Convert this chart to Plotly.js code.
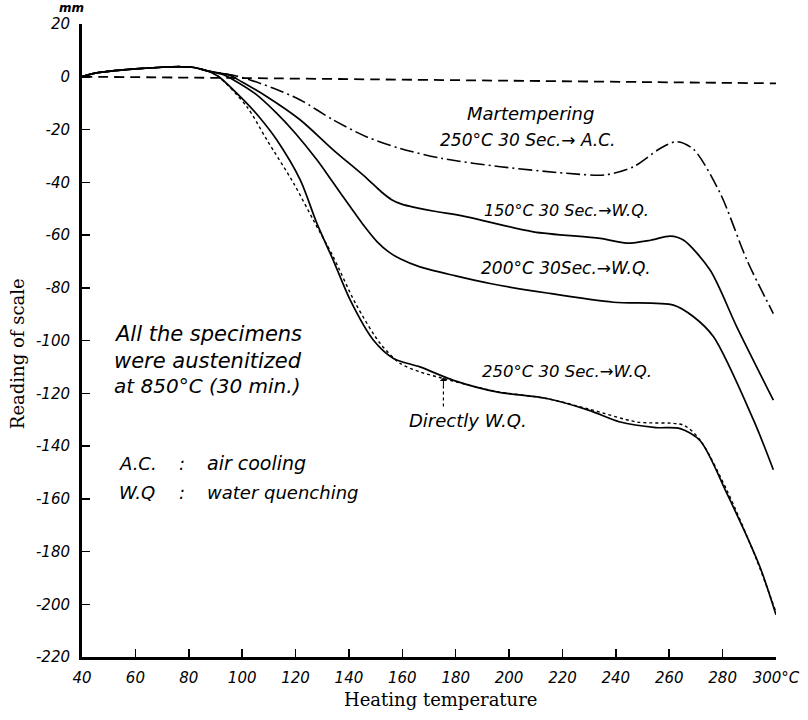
<!DOCTYPE html>
<html>
<head>
<meta charset="utf-8">
<script src="https://cdn.plot.ly/plotly-3.0.1.min.js"></script>
<style>html,body{margin:0;padding:0;background:#fff;}#chart{width:808px;height:720px;}</style>
</head>
<body>
<div id="chart"></div>
<script>
// ---- data ----
// common initial heating part (all specimens)
const commonT = [40, 45, 52, 60, 70, 77, 82, 87];
const commonR = [0, 1.4, 2.3, 3.0, 3.6, 3.8, 3.5, 2.2];

// reference dashed line (near zero)
const refT = [40, 100, 150, 200, 250, 300];
const refR = [0, -0.5, -1.0, -1.5, -2.0, -2.5];

// Martempering 250°C 30 Sec -> A.C.
const martT = [97, 103, 112, 121.8, 134.2, 146.7, 159.2, 175, 196.7, 221.6, 236, 246.6, 256.6, 262.8, 269.1, 279.1, 289.1, 299];
const martR = [0.5, -1.2, -4.5, -8.8, -16.4, -22.8, -27.2, -31, -34.1, -36.6, -37.2, -34.1, -27.2, -24.6, -27.5, -44.2, -69.5, -89.8];

// 150°C 30 Sec -> W.Q.
const wq150T = [95, 100, 109.3, 121.8, 134.2, 146.7, 152, 156, 160, 165, 172, 184.2, 209.1, 234.1, 244.1, 253, 260.4, 265.3, 275.3, 285.3, 299];
const wq150R = [0.7, -2, -7.6, -16.4, -27.8, -38.5, -43.5, -46.6, -48.4, -49.6, -51, -53.1, -58.8, -61.3, -63.1, -62, -60.4, -61.9, -73.3, -94.8, -122.6];

// 200°C 30 Sec -> W.Q.
const wq200T = [93, 96.8, 105, 113, 120, 128, 134, 140.5, 146, 150.5, 155, 159.2, 166.6, 180, 192.9, 214.2, 239.1, 261.6, 269.1, 276.6, 291.6, 299];
const wq200R = [0.8, -1.2, -6.5, -13.9, -21.5, -31.5, -40, -49.3, -57, -62.5, -66.5, -69, -72.1, -75.5, -78.4, -82.0, -85.5, -86.6, -91.0, -98.6, -130.2, -149];

// 250°C 30 Sec -> W.Q.
const wq250T = [91, 100.5, 107, 113, 121.8, 128, 134.1, 140.5, 149.2, 156.7, 166.6, 179.2, 195.4, 214.2, 230, 241.6, 255, 264.1, 271.6, 281.6, 294, 300];
const wq250R = [0.2, -8.8, -16, -24.0, -39.2, -55.6, -69.5, -84.7, -99.9, -106.8, -110.0, -115.1, -119.5, -122.0, -126.5, -130.9, -133.0, -133.4, -138, -158.0, -185.9, -204];

// Directly W.Q.
const directT = [91, 101.8, 109.3, 119.3, 126.7, 134, 142.5, 151.7, 159.2, 166.6, 175.4, 195, 214, 230, 247.9, 265.3, 271.6, 281.6, 292.8, 300];
const directR = [0.2, -11.4, -24.0, -40.4, -54.4, -68, -86, -101.1, -108.7, -111.9, -114.4, -119.3, -122, -126, -130.9, -132.1, -137.8, -156.8, -183.3, -203];

// axis ticks
const xTicks = [40, 60, 80, 100, 120, 140, 160, 180, 200, 220, 240, 260, 280, 300];
const xTickText = ["40", "60", "80", "100", "120", "140", "160", "180", "200", "220", "240", "260", "280", "300°C"];
const yTicks = [20, 0, -20, -40, -60, -80, -100, -120, -140, -160, -180, -200, -220];
const yTickText = ["20", "0", "-20", "-40", "-60", "-80", "-100", "-120", "-140", "-160", "-180", "-200", "-220"];

// ---- build traces ----
const withCommon = (t, r) => ({x: commonT.concat(t), y: commonR.concat(r)});
const hand = {family: "DejaVu Sans", style: "italic", color: "#000"};

function curve(d, dash, width) {
  return {x: d.x, y: d.y, type: "scatter", mode: "lines",
          line: {color: "#000", width: width, dash: dash, shape: "spline", smoothing: 0.8},
          hoverinfo: "skip", showlegend: false};
}

const traces = [
  curve({x: refT, y: refR}, "10px,6px", 1.8),
  curve(withCommon(martT, martR), "14px,4px,2px,4px", 1.6),
  curve(withCommon(wq150T, wq150R), "solid", 1.7),
  curve(withCommon(wq200T, wq200R), "solid", 1.7),
  curve(withCommon(directT, directR), "dot", 1.4),
  curve(withCommon(wq250T, wq250R), "solid", 1.7)
];

function ann(text, x, y, size, extra) {
  return Object.assign({text: text, x: x, y: y, xref: "x", yref: "y", showarrow: false,
    font: Object.assign({}, hand, {size: size})}, extra || {});
}
function pann(text, x, y, font, extra) {
  return Object.assign({text: text, x: x, y: y, xref: "paper", yref: "paper", showarrow: false,
    xanchor: "center", yanchor: "middle", font: font}, extra || {});
}

const annotations = [
  pann("mm", -0.0150, 1.0255, {family: "DejaVu Sans", style: "italic", weight: 700, size: 12, color: "#000"}),
  ann("Martempering", 207.9, -13.8, 18),
  ann("250°C 30 Sec.→ A.C.", 207.2, -24.0, 17),
  ann("150°C 30 Sec.→W.Q.", 221.4, -50.6, 16),
  ann("200°C 30Sec.→W.Q.", 221.4, -72.6, 17),
  ann("250°C 30 Sec.→W.Q.", 221.8, -111.6, 16.5),
  ann("Directly W.Q.", 184.7, -130.4, 18),
  ann("All the specimens", 51.4, -97.6, 21, {xanchor: "left"}),
  ann("were austenitized", 51.4, -107.8, 21, {xanchor: "left"}),
  ann("at 850°C (30 min.)", 51.4, -117.3, 20, {xanchor: "left"}),
  ann("A.C.", 53.2, -146.5, 18, {xanchor: "left"}),
  ann(":", 77.6, -146.5, 18),
  ann("air cooling", 86.2, -146.5, 19, {xanchor: "left"}),
  ann("W.Q", 53.2, -157.5, 18, {xanchor: "left"}),
  ann(":", 77.6, -157.5, 18),
  ann("water quenching", 86.2, -157.5, 18, {xanchor: "left"}),
  // arrow head for "Directly W.Q."
  {text: "", x: 175.4, y: -114.0, ax: 175.4, ay: -118.5, xref: "x", yref: "y", axref: "x", ayref: "y",
   showarrow: true, arrowhead: 1, arrowsize: 1.2, arrowwidth: 1, arrowcolor: "#000"},
  // axis titles
  pann("Reading of scale", -0.0920, 0.4787, {family: "DejaVu Serif", size: 18, color: "#000"}, {textangle: -90}),
  pann("Heating temperature", 0.5159, -0.0679, {family: "DejaVu Serif", size: 18, color: "#000"})
];

const shapes = [
  {type: "line", xref: "x", yref: "y", x0: 175.4, x1: 175.4, y0: -125, y1: -117.5,
   line: {color: "#000", width: 1.2, dash: "dot"}}
];

const layout = {
  width: 808, height: 720,
  margin: {l: 82, r: 32, t: 24, b: 63},
  paper_bgcolor: "#fff", plot_bgcolor: "#fff",
  showlegend: false,
  xaxis: {range: [40, 300], tickvals: xTicks, ticktext: xTickText,
          showline: true, linewidth: 2.5, linecolor: "#000", ticks: "inside", ticklen: 8, tickwidth: 1.5, tickcolor: "#000",
          showgrid: false, zeroline: false, ticklabelstandoff: 5,
          tickfont: {family: "DejaVu Sans", style: "italic", size: 15, color: "#000"}, fixedrange: true},
  yaxis: {range: [-220, 20], tickvals: yTicks, ticktext: yTickText,
          showline: true, linewidth: 3, linecolor: "#000", ticks: "inside", ticklen: 8, tickwidth: 1.5, tickcolor: "#000",
          showgrid: false, zeroline: false, ticklabelstandoff: 6,
          tickfont: {family: "DejaVu Sans", style: "italic", size: 15, color: "#000"}, fixedrange: true},
  annotations: annotations,
  shapes: shapes
};

Plotly.newPlot("chart", traces, layout, {displayModeBar: false, staticPlot: true});
</script>
</body>
</html>
